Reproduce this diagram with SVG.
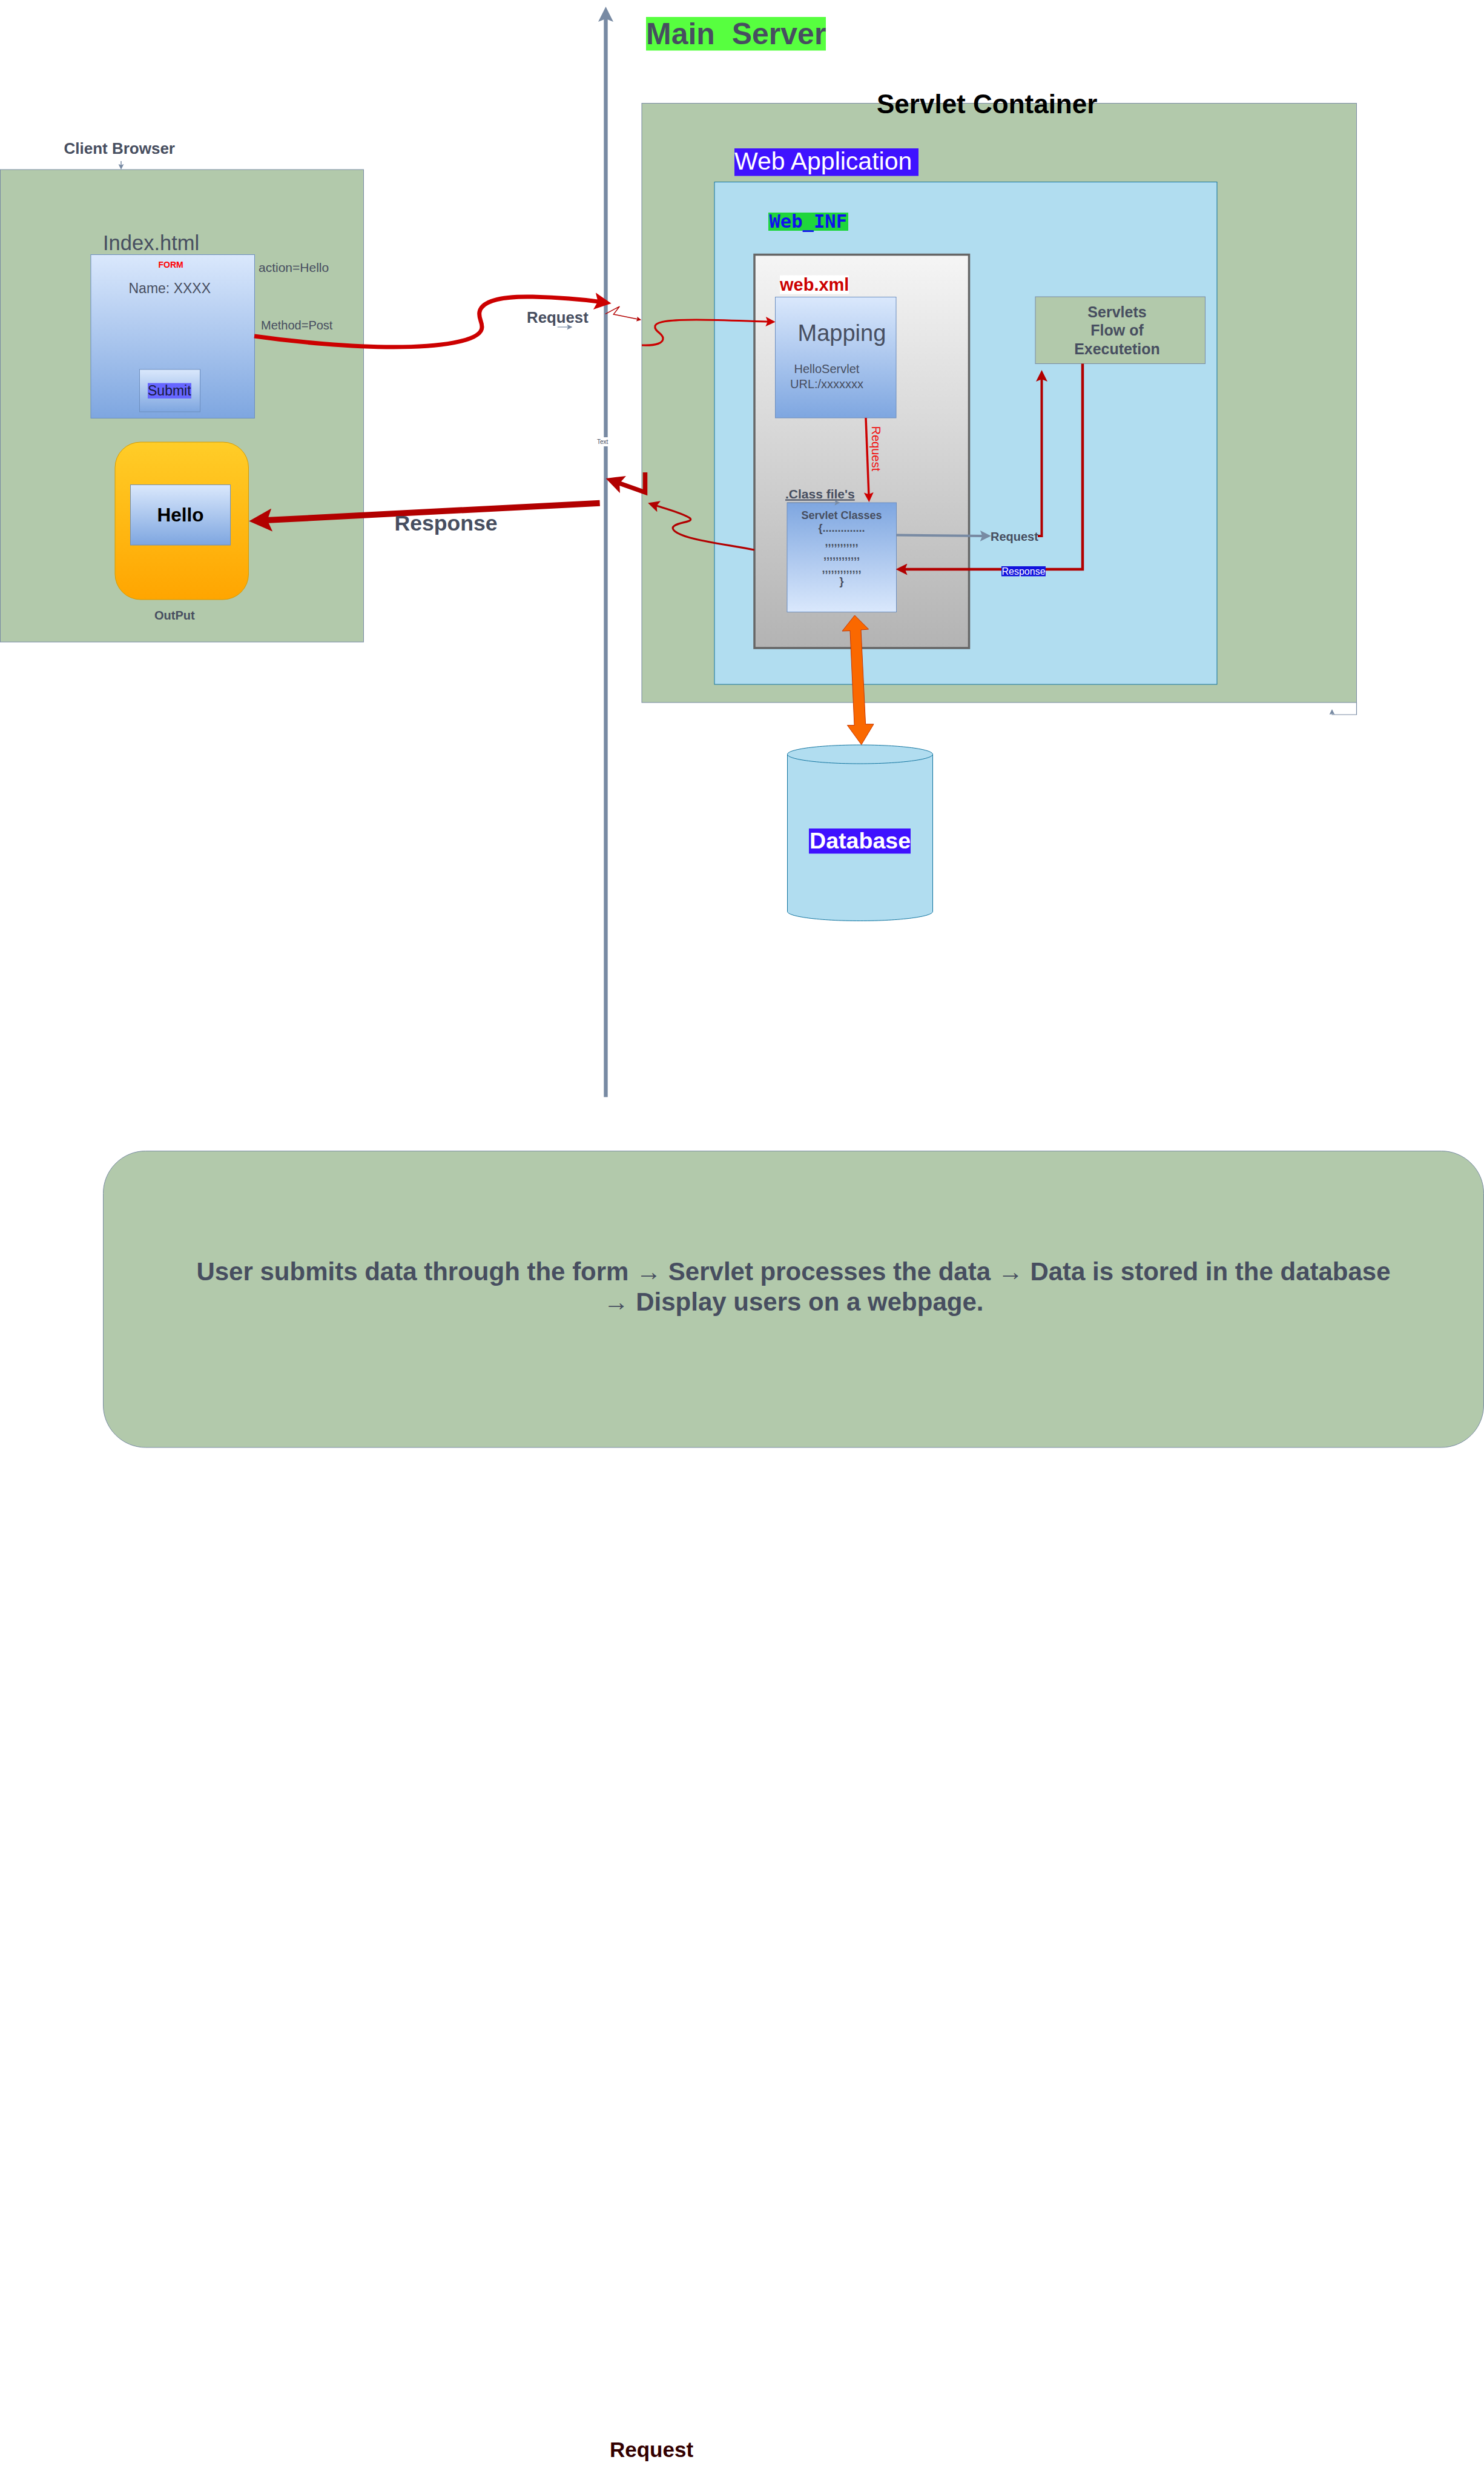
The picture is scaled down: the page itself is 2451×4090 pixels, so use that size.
<svg xmlns="http://www.w3.org/2000/svg" width="2451" height="4090" viewBox="0 0 2451 4090">
<style>
text{font-family:"Liberation Sans",Arial,sans-serif;fill:#474E60}
.b{font-weight:bold}
.m{text-anchor:middle}
.green{fill:#B2C9AB;stroke:#788AA3;stroke-width:1}
.blue{fill:#B1DDF0;stroke:#10739E;stroke-width:1}
.grad{fill:url(#gBlue);stroke:#6C8EBF;stroke-width:1}
.line{fill:none;stroke-linejoin:miter}
.r1{stroke:#B20000}
.r2{stroke:#CC0000}
.g1{stroke:#788AA3}
</style>
<defs>
<linearGradient id="gBlue" x1="0" y1="0" x2="0" y2="1"><stop offset="0" stop-color="#DAE8FC"/><stop offset="1" stop-color="#7EA6E0"/></linearGradient>
<linearGradient id="gBlueUp" x1="0" y1="1" x2="0" y2="0"><stop offset="0" stop-color="#DAE8FC"/><stop offset="1" stop-color="#7EA6E0"/></linearGradient>
<linearGradient id="gGrey" x1="0" y1="0" x2="0" y2="1"><stop offset="0" stop-color="#F5F5F5"/><stop offset="1" stop-color="#B3B3B3"/></linearGradient>
<linearGradient id="gOrange" x1="0" y1="0" x2="0" y2="1"><stop offset="0" stop-color="#FFCD28"/><stop offset="1" stop-color="#FFA500"/></linearGradient>
<marker id="aR38" markerUnits="userSpaceOnUse" markerWidth="38" markerHeight="38" viewBox="0 0 20 20" refX="8" refY="10" orient="auto"><path d="M0,0 L20,10 L0,20 L4,10 Z" fill="#B20000"/></marker>
<marker id="aC28" markerUnits="userSpaceOnUse" markerWidth="28" markerHeight="28" viewBox="0 0 20 20" refX="8" refY="10" orient="auto"><path d="M0,0 L20,10 L0,20 L4,10 Z" fill="#CC0000"/></marker>
<marker id="aR30" markerUnits="userSpaceOnUse" markerWidth="30" markerHeight="30" viewBox="0 0 20 20" refX="8" refY="10" orient="auto"><path d="M0,0 L20,10 L0,20 L4,10 Z" fill="#B20000"/></marker>
<marker id="aR18" markerUnits="userSpaceOnUse" markerWidth="19" markerHeight="19" viewBox="0 0 20 20" refX="8" refY="10" orient="auto"><path d="M0,0 L20,10 L0,20 L4,10 Z" fill="#B20000"/></marker>
<marker id="aC16" markerUnits="userSpaceOnUse" markerWidth="16" markerHeight="16" viewBox="0 0 20 20" refX="8" refY="10" orient="auto"><path d="M0,0 L20,10 L0,20 L4,10 Z" fill="#CC0000"/></marker>
<marker id="aR8" markerUnits="userSpaceOnUse" markerWidth="8" markerHeight="8" viewBox="0 0 20 20" refX="8" refY="10" orient="auto"><path d="M0,0 L20,10 L0,20 L4,10 Z" fill="#B20000"/></marker>
<marker id="aG17" markerUnits="userSpaceOnUse" markerWidth="18" markerHeight="18" viewBox="0 0 20 20" refX="8" refY="10" orient="auto"><path d="M0,0 L20,10 L0,20 L4,10 Z" fill="#788AA3"/></marker>
<marker id="aG9" markerUnits="userSpaceOnUse" markerWidth="9" markerHeight="9" viewBox="0 0 20 20" refX="8" refY="10" orient="auto"><path d="M0,0 L20,10 L0,20 L4,10 Z" fill="#788AA3"/></marker>
<marker id="aG26" markerUnits="userSpaceOnUse" markerWidth="25" markerHeight="25" viewBox="0 0 20 20" refX="8" refY="10" orient="auto"><path d="M0,0 L20,10 L0,20 L4,10 Z" fill="#788AA3"/></marker>
</defs>

<rect width="2451" height="4090" fill="#fff"/>

<g id="client-browser">
<rect class="green" x="0.5" y="280" width="600" height="780"/>
<text class="b" x="105.5" y="254" font-size="26">Client Browser</text>
</g>
<g id="form">
<text x="170" y="413" font-size="34.5">Index.html</text>
<rect class="grad" x="150" y="420.5" width="270.5" height="270"/>
<text class="b" x="261.5" y="442" font-size="14" style="fill:#FF0000">FORM</text>
<text x="212.5" y="484" font-size="23">Name: XXXX</text>
<text x="427" y="448.5" font-size="21">action=Hello</text>
<text x="431" y="543.5" font-size="20">Method=Post</text>
</g>
<g id="submit">
<rect class="grad" x="230.5" y="610" width="100" height="70"/>
<rect x="244" y="632.5" width="72" height="25.5" fill="#6666FF"/>
<text x="244" y="653" font-size="23" style="fill:#1A1A40">Submit</text>
</g>
<g id="output">
<rect x="190" y="730" width="220.5" height="260" rx="42" ry="42" fill="url(#gOrange)" stroke="#D79B00" stroke-width="1"/>
<rect class="grad" x="215.5" y="800.5" width="165" height="99.5"/>
<text class="b m" x="298" y="861" font-size="31.5" style="fill:#000">Hello</text>
<text class="b" x="255" y="1022.5" font-size="20">OutPut</text>
</g>

<g id="main-server">
<rect x="1067" y="28" width="297" height="55.5" fill="#57FF3F"/>
<text class="b" x="1067" y="73" font-size="50" xml:space="preserve" style="white-space:pre">Main  Server</text>
</g>

<g id="servlet-container">
<rect class="green" x="1060" y="170.5" width="1180.5" height="989.5"/>
<text class="b" x="1448" y="186.5" font-size="44" style="fill:#000">Servlet Container</text>
</g>
<g id="web-application">
<rect x="1213" y="245" width="304" height="45.5" fill="#3F12FF"/>
<text x="1213" y="280" font-size="41" style="fill:#fff">Web Application</text>
<rect class="blue" x="1180" y="300.5" width="830" height="829.5"/>
</g>
<g id="web-inf">
<rect x="1269" y="351" width="132" height="30" fill="#1FD63C"/>
<text x="1270.5" y="376" font-size="30.5" class="b" style="font-family:'DejaVu Sans Mono','Liberation Mono',monospace;fill:#1010EE">Web_INF</text>
</g>
<g id="web-xml">
<rect x="1246" y="420.5" width="354.5" height="649.5" fill="url(#gGrey)" stroke="#666" stroke-width="3.5"/>
<rect x="1288" y="454.5" width="114" height="31" fill="#fff"/>
<text class="b" x="1288" y="479.5" font-size="29" style="fill:#CC0000">web.xml</text>
</g>
<g id="mapping">
<rect class="grad" x="1280.5" y="490.5" width="199.5" height="199.5"/>
<text x="1317.5" y="562.5" font-size="38">Mapping</text>
<text x="1311.5" y="616" font-size="20">HelloServlet</text>
<text x="1305" y="640.5" font-size="20">URL:/xxxxxxx</text>
</g>
<g id="servlet-classes">
<text class="b" x="1297" y="822.5" font-size="21" text-decoration="underline">.Class file's</text>
<rect x="1300" y="830" width="180.5" height="180.5" fill="url(#gBlueUp)" stroke="#6C8EBF" stroke-width="1"/>
<text class="b m" x="1390" y="857" font-size="18">Servlet Classes</text>
<text class="b m" x="1390" y="877.5" font-size="18">{..............</text>
<text class="b m" x="1390" y="901" font-size="18">,,,,,,,,,,,</text>
<text class="b m" x="1390" y="923" font-size="18">,,,,,,,,,,,,</text>
<text class="b m" x="1390" y="944.5" font-size="18">,,,,,,,,,,,,,</text>
<text class="b m" x="1390" y="966" font-size="18">}</text>
</g>
<g id="servlets-flow">
<rect class="green" x="1710" y="490" width="280.5" height="110.5"/>
<text class="b m" x="1845" y="524" font-size="25">Servlets</text>
<text class="b m" x="1845" y="554" font-size="25">Flow of</text>
<text class="b m" x="1845" y="584.5" font-size="25">Executetion</text>
</g>
<g id="database">
<path class="blue" d="M1300.5,1245.5 C1300.5,1237 1354,1230 1420.5,1230 C1487,1230 1540.5,1237 1540.5,1245.5 V1505 C1540.5,1513.5 1487,1520.5 1420.5,1520.5 C1354,1520.5 1300.5,1513.5 1300.5,1505 Z"/>
<path d="M1300.5,1245.5 C1300.5,1254 1354,1261 1420.5,1261 C1487,1261 1540.5,1254 1540.5,1245.5" fill="none" stroke="#10739E" stroke-width="1"/>
<rect x="1336" y="1368" width="168" height="41.5" fill="#3F12FF"/>
<text class="b" x="1337" y="1400.5" font-size="37.6" style="fill:#fff">Database</text>
</g>

<g id="summary">
<rect class="green" x="170.5" y="1900.5" width="2280" height="489.5" rx="70" ry="70"/>
<text class="b m" x="1310.5" y="2113.5" font-size="42">User submits data through the form → Servlet processes the data → Data is stored in the database</text>
<text class="b m" x="1310.5" y="2164" font-size="42">→ Display users on a webpage.</text>
</g>
<g id="footer-label">
<text class="b" x="1007" y="4057" font-size="35" style="fill:#330000">Request</text>
</g>

<g id="connectors">
<path class="line g1" stroke-width="6.4" d="M1000.5,1811.5 V26" marker-end="url(#aG26)"/>
<path class="line g1" stroke-width="1.5" d="M200,266 V274.5" marker-end="url(#aG9)"/>
<path class="line g1" stroke-width="1.2" d="M920.7,540 H940" marker-end="url(#aG9)"/>
<path class="line g1" stroke-width="1.2" d="M2240.5,1160 V1180 H2200 V1176.5" marker-end="url(#aG9)"/>
<path class="line g1" stroke-width="1.2" d="M1300,830 H1382" marker-end="url(#aG9)"/>
<path class="line r2" stroke-width="7" d="M420,555 C490,565 580,573 650,573 C720,573 796,565 796,540 C796,530 790,525 792,515 C796,495 835,489 880,490 C920,491 960,494 993,498.6" marker-end="url(#aC28)"/>
<path class="line r1" stroke-width="1.4" d="M1000,518.3 L1023.3,506 L1013.3,519 L1054.5,527.3" marker-end="url(#aR8)"/>
<path class="line r2" stroke-width="3.2" d="M1060,570 C1085,571 1096,566 1095,558 C1094,550 1080,547 1082,538 C1085,530 1110,528 1150,528 C1190,528 1230,530 1271,531.2" marker-end="url(#aC16)"/>
<path class="line r2" stroke-width="3.5" d="M1430,690 L1435,819.5" marker-end="url(#aC16)"/>
<path class="line g1" stroke-width="4" d="M1480,883.6 L1626,885" marker-end="url(#aG17)"/>
<path class="line r1" stroke-width="4" d="M1714,885 H1720.5 V622.4" marker-end="url(#aR18)"/>
<path class="line r1" stroke-width="4.5" d="M1788,600.5 V940 H1491" marker-end="url(#aR18)"/>
<path class="line r1" stroke-width="3.2" d="M1246,908 C1210,901 1170,896 1140,888 C1115,881 1106,873 1114,868 C1122,862 1145,862 1140,856 C1130,848 1100,840 1081,834" marker-end="url(#aR18)"/>
<path class="line r1" stroke-width="7.5" d="M1065.5,780 V813 L1017.6,796" marker-end="url(#aR30)"/>
<path class="line r1" stroke-width="10" d="M990.7,830.7 L434,859.3" marker-end="url(#aR38)"/>
<polygon points="1411.6,1016 1434.6,1039 1422,1040 1429.6,1195.7 1443,1195.7 1422.7,1229.6 1399.4,1197.5 1411,1197.5 1404,1041.5 1391,1042" fill="#FA6800" stroke="#C73500" stroke-width="1"/>
</g>

<g id="connector-labels">
<text class="b" x="870" y="533" font-size="25.8">Request</text>
<text class="b" x="651.5" y="876" font-size="35.6">Response</text>
<rect x="985" y="722" width="21" height="15" fill="#fff"/>
<text x="986" y="733" font-size="10">Text</text>
<text x="0" y="0" font-size="20" transform="translate(1440,703.5) rotate(90)" style="fill:#F01010">Request</text>
<text class="b" x="1636" y="893" font-size="20">Request</text>
<rect x="1654" y="935" width="73" height="16.5" fill="#1212DD"/>
<text x="1654.5" y="949" font-size="16" style="fill:#fff">Response</text>
</g>
</svg>
